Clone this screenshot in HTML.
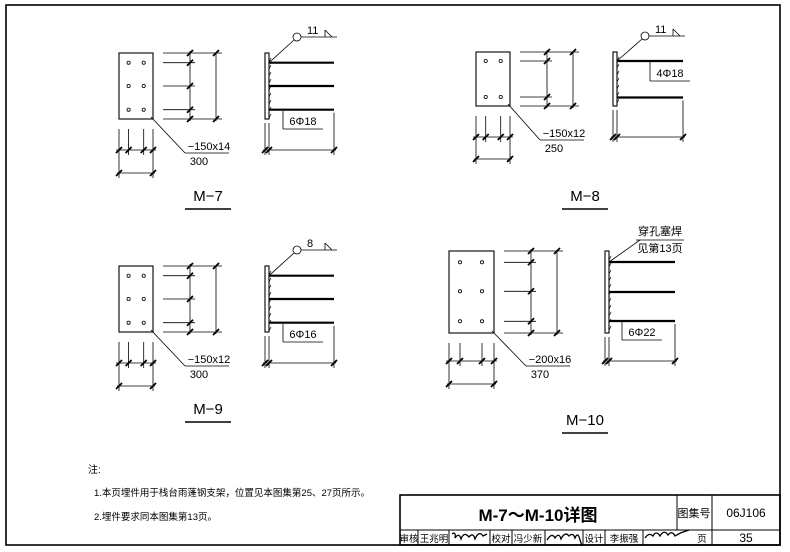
<!DOCTYPE html>
<html><head><meta charset="utf-8"><style>
html,body{margin:0;padding:0;background:#fff;}
svg{display:block;}
text{font-family:"Liberation Sans","Noto Sans CJK SC",sans-serif;fill:#000;}
</style></head><body>
<svg id="s" width="790" height="552" viewBox="0 0 790 552" xmlns="http://www.w3.org/2000/svg">
<rect x="6" y="5" width="774" height="540" fill="none" stroke="#000" stroke-width="1.6"/>
<g stroke="#000" stroke-width="1" fill="none">
<rect x="400" y="495" width="380" height="50" stroke-width="1.6"/>
<line x1="400" y1="530" x2="780" y2="530"/>
<line x1="677" y1="495" x2="677" y2="530"/>
<line x1="712" y1="495" x2="712" y2="545"/>
<line x1="418" y1="530" x2="418" y2="545"/>
<line x1="449" y1="530" x2="449" y2="545"/>
<line x1="490" y1="530" x2="490" y2="545"/>
<line x1="512" y1="530" x2="512" y2="545"/>
<line x1="545" y1="530" x2="545" y2="545"/>
<line x1="583" y1="530" x2="583" y2="545"/>
<line x1="605" y1="530" x2="605" y2="545"/>
<line x1="643" y1="530" x2="643" y2="545"/>
</g>
<text x="538" y="521" font-size="17" font-weight="bold" text-anchor="middle">M-7～M-10详图</text>
<text x="694" y="517" font-size="11" text-anchor="middle">图集号</text>
<text x="746" y="517" font-size="12" text-anchor="middle">06J106</text>
<g font-size="9.5">
<text x="409" y="542" text-anchor="middle">审核</text>
<text x="434" y="542" text-anchor="middle">王兆明</text>
<text x="501" y="542" text-anchor="middle">校对</text>
<text x="528" y="542" text-anchor="middle">冯少新</text>
<text x="594" y="542" text-anchor="middle">设计</text>
<text x="624" y="542" text-anchor="middle">李振强</text>
<text x="702" y="542" text-anchor="middle">页</text>
</g>
<text x="746" y="542" font-size="12" text-anchor="middle">35</text>
<g stroke="#000" stroke-width="1.3" fill="none">
<path d="M452 534 q4 -3 3 4 q4 -6 6 1 q3 -8 8 -2 q4 -5 6 2 q4 -9 8 -3 l4 -2"/>
<path d="M547 540 q5 -8 8 -2 q4 -6 6 1 q4 -8 8 -3 q4 -4 6 2 q3 -7 5 2 l2 6"/>
<path d="M645 538 q4 -6 8 -2 q3 -6 7 0 q4 -7 8 -1 q4 -5 7 1 q5 -3 8 -4 l6 -2"/>
</g>
<text x="88" y="473" font-size="10">注:</text>
<text x="94" y="496" font-size="9.5">1.本页埋件用于栈台雨蓬钢支架，位置见本图集第25、27页所示。</text>
<text x="94" y="520" font-size="9.5">2.埋件要求同本图集第13页。</text>
<g id="g"></g>
</svg>
<script>
var g=document.getElementById('g'),out='';
function L(a,b,c,d,w){out+='<line x1="'+a+'" y1="'+b+'" x2="'+c+'" y2="'+d+'" stroke="#000" stroke-width="'+(w||0.8)+'"/>';}
function T(x,y){L(x-3,y+3,x+3,y-3,1.8);}
function X(x,y,s,sz,anc){out+='<text x="'+x+'" y="'+y+'" font-size="'+(sz||11)+'" text-anchor="'+(anc||'start')+'">'+s+'</text>';}
function fig(p){
 var a=p.px1,b=p.px2,t=p.py1,u=p.py2;
 out+='<rect x="'+a+'" y="'+t+'" width="'+(b-a)+'" height="'+(u-t)+'" fill="none" stroke="#000" stroke-width="1.1"/>';
 p.hx.forEach(function(x){p.hy.forEach(function(y){out+='<circle cx="'+x+'" cy="'+y+'" r="1.6" fill="none" stroke="#000" stroke-width="0.8"/>';});});
 var e=b+10;
 L(e,t,p.d2+6,t);L(e,u,p.d2+6,u);
 p.hy.forEach(function(y){L(e,y,p.d1+5,y);T(p.d1,y);});
 L(p.d1,t-2,p.d1,u+2);L(p.d2,t,p.d2,u+2);
 T(p.d1,t);T(p.d1,u);T(p.d2,t);T(p.d2,u);
 var xs=[a,p.hx[0],p.hx[1],b];
 xs.forEach(function(x,i){L(x,u+10,x,(i==0||i==3)?p.by2+5:p.by1+5);T(x,p.by1);});
 L(a-3,p.by1,b+3,p.by1);L(a-2,p.by2,b+2,p.by2);T(a,p.by2);T(b,p.by2);
 L(b-2,u-2,p.lx,p.ly);L(p.lx,p.ly,p.lx+44,p.ly);
 X(p.lx+24,p.ly-3,p.t1,11,'middle');X(p.lx+14,p.ly+12,p.t2,11,'middle');
 var s1=p.sx,s2=p.sx+4;
 out+='<rect x="'+s1+'" y="'+t+'" width="4" height="'+(u-t)+'" fill="none" stroke="#000" stroke-width="1.1"/>';
 for(var y=t+6;y<u-3;y+=7)L(s2,y+3,s2+2,y-1,0.7);
 p.bars.forEach(function(y){L(s2,y,p.bx,y,2.2);});
 var lb=p.bars[p.bars.length-1];
 L(s1,u+4,s1,p.sy+5);L(s2,u+4,s2,p.sy+5);L(p.bx,lb+3,p.bx,p.sy+5);
 L(s1-2,p.sy,p.bx+2,p.sy);T(s1,p.sy);T(s2,p.sy);T(p.bx,p.sy);
 L(p.rx,p.ry0,p.rx,p.ry1);L(p.rx,p.ry1,p.rx+40,p.ry1);X(p.rx+20,p.ry1-4,p.rt,11,'middle');
 if(p.cx){
  L(s2,p.bars[0],p.cx-3,p.cy+3);
  out+='<circle cx="'+p.cx+'" cy="'+p.cy+'" r="4" fill="none" stroke="#000" stroke-width="0.8"/>';
  L(p.cx+4,p.cy,p.cx+40,p.cy);L(p.cx+28,p.cy,p.cx+28,p.cy-7);L(p.cx+28,p.cy-7,p.cx+35,p.cy);
  X(p.cx+10,p.cy-3,p.wn,11);
 } else {
  L(s2,p.bars[0],p.wx,p.wy);L(p.wx-4,p.wy,p.wx+44,p.wy);
  X(p.wx+20,p.wy-5,'穿孔塞焊',11,'middle');X(p.wx+20,p.wy+12,'见第13页',11,'middle');
 }
 X(p.mx,p.my,p.m,15,'middle');L(p.mx-23,p.my+8,p.mx+23,p.my+8,1.6);
}
function m7(dy,t1,rt,wn,m){return {px1:119,px2:153,py1:53+dy,py2:119+dy,hx:[128.6,143.7],hy:[62.7+dy,86+dy,109.7+dy],d1:190,d2:216,by1:150+dy,by2:173+dy,lx:185,ly:153+dy,t1:t1,t2:'300',sx:265,bars:[62.7+dy,86+dy,109.7+dy],bx:334,sy:150+dy,rx:283,ry0:111+dy,ry1:129+dy,rt:rt,cx:297,cy:37+dy,wn:wn,mx:208,my:201+dy,m:m};}
fig(m7(0,'−150x14','6Φ18','11','M−7'));
fig(m7(213,'−150x12','6Φ16','8','M−9'));
fig({px1:476,px2:510,py1:52,py2:106,hx:[485.7,500.7],hy:[61,97],d1:547,d2:573,by1:137,by2:159,lx:540,ly:140,t1:'−150x12',t2:'250',sx:613,bars:[61,97.5],bx:683,sy:137,rx:650,ry0:61,ry1:81,rt:'4Φ18',cx:645,cy:36,wn:'11',mx:585,my:201,m:'M−8'});
fig({px1:449,px2:494,py1:251,py2:333,hx:[460,482],hy:[262.3,291.3,321.3],d1:531,d2:557,by1:361,by2:384,lx:526,ly:366,t1:'−200x16',t2:'370',sx:605,bars:[262,292,321],bx:675,sy:361,rx:622,ry0:322,ry1:340,rt:'6Φ22',wx:640,wy:240,mx:585,my:425,m:'M−10'});
g.innerHTML=out;
</script>
</body></html>
